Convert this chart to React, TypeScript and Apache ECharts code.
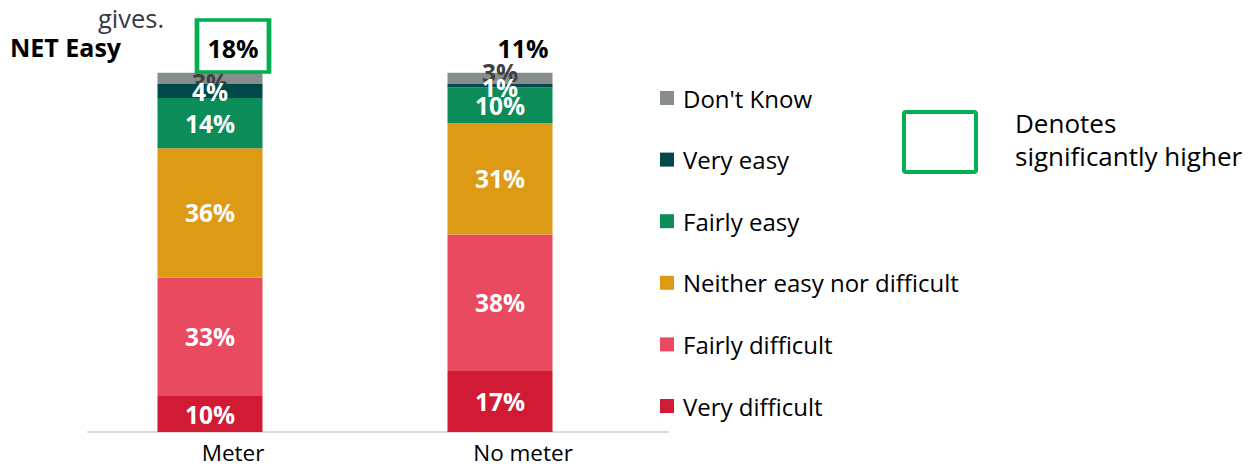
import React, { useEffect, useRef } from "react";
import * as echarts from "echarts";

const categories = ["Meter", "No meter"];
const seriesNames = [
  "Very difficult",
  "Fairly difficult",
  "Neither easy nor difficult",
  "Fairly easy",
  "Very easy",
  "Don't Know",
];
const veryDifficult = [10, 17];
const fairlyDifficult = [33, 38];
const neitherEasyNorDifficult = [36, 31];
const fairlyEasy = [14, 10];
const veryEasy = [4, 1];
const dontKnow = [3, 3];
const netEasy = [18, 11];
const significantlyHigher = [true, false];
const legendOrder = [
  "Don't Know",
  "Very easy",
  "Fairly easy",
  "Neither easy nor difficult",
  "Fairly difficult",
  "Very difficult",
];

const seriesValues = [veryDifficult, fairlyDifficult, neitherEasyNorDifficult, fairlyEasy, veryEasy, dontKnow];
const seriesColors = ["#d11a33", "#ea4a60", "#dd9a14", "#0b8c58", "#00484a", "#878c8c"];
// label nudges per series (by category) for the small segments
const labelNudges: Record<string, number[]> = {
  "Don't Know": [4, -6],
  "Very easy": [1, 2],
};

const FONT = "'Open Sans', 'Noto Sans', sans-serif";
const GREEN = "#00b050";

export default function App() {
  const ref = useRef<HTMLDivElement>(null);

  useEffect(() => {
    if (!ref.current) return;
    const chart = echarts.init(ref.current, null, { renderer: "svg" });

    const barSeries = seriesNames.map((name, i) => {
      const isDK = name === "Don't Know";
      const nudges = labelNudges[name];
      return {
        name,
        type: "bar",
        stack: "total",
        xAxisIndex: 1,
        yAxisIndex: 1,
        barWidth: 105,
        z: isDK ? 1 : 2,
        silent: true,
        itemStyle: { color: seriesColors[i] },
        label: {
          show: true,
          position: "inside",
          formatter: "{c}%",
          color: isDK ? "#404040" : "#ffffff",
          fontWeight: "bold",
          fontSize: 24.5,
          fontFamily: FONT,
        },
        data: seriesValues[i].map((v, j) =>
          nudges ? { value: v, label: { offset: [0, nudges[j]] } } : v
        ),
      };
    });

    const netData = netEasy.map((v, i) =>
      significantlyHigher[i]
        ? {
            value: 107.5,
            symbol: "rect",
            symbolSize: [72, 52],
            itemStyle: { color: "#ffffff", borderColor: GREEN, borderWidth: 4, opacity: 1 },
          }
        : { value: 107.5, symbolSize: 0 }
    );

    chart.setOption({
      animation: false,
      grid: [
        { left: 88, width: 580, top: 19, height: 413 },
        { left: 65, width: 580, top: 19, height: 413 },
      ],
      xAxis: [
        {
          type: "category",
          gridIndex: 0,
          data: categories,
          axisLine: { lineStyle: { color: "#d9d9d9", width: 2 } },
          axisTick: { show: false },
          axisLabel: { fontSize: 22.5, lineHeight: 22, color: "#000000", margin: 9, fontFamily: FONT },
        },
        { type: "category", gridIndex: 1, data: categories, show: false },
      ],
      yAxis: [
        { type: "value", gridIndex: 0, min: 0, max: 115, show: false },
        { type: "value", gridIndex: 1, min: 0, max: 115, show: false },
      ],
      legend: {
        data: legendOrder,
        orient: "vertical",
        left: 660,
        top: 85,
        padding: 0,
        itemWidth: 14,
        itemHeight: 14,
        itemGap: 35.6,
        icon: "rect",
        selectedMode: false,
        textStyle: { fontSize: 24, lineHeight: 26, color: "#000000", fontFamily: FONT, padding: [0, 0, 0, 4] },
      },
      series: [
        ...barSeries,
        {
          type: "scatter",
          xAxisIndex: 0,
          yAxisIndex: 0,
          silent: true,
          z: 5,
          itemStyle: { opacity: 1 },
          label: {
            show: true,
            position: "inside",
            offset: [0, 2],
            formatter: (p: any) => netEasy[p.dataIndex] + "%",
            color: "#000000",
            opacity: 1,
            fontWeight: "bold",
            fontSize: 25,
            fontFamily: FONT,
          },
          data: netData,
        },
      ],
      graphic: [
        {
          type: "text",
          left: 98,
          top: 5,
          style: { text: "gives.", fontSize: 25.5, fill: "#333a44", fontFamily: FONT },
        },
        {
          type: "text",
          left: 10,
          top: 34,
          style: { text: "NET Easy", fontSize: 25, fontWeight: "bold", fill: "#000000", fontFamily: FONT },
        },
        {
          type: "rect",
          shape: { x: 904, y: 112, width: 72, height: 60, r: 2 },
          style: { fill: "none", stroke: GREEN, lineWidth: 4 },
        },
        {
          type: "text",
          left: 1015,
          top: 110,
          style: { text: "Denotes", fontSize: 26, fill: "#000000", fontFamily: FONT },
        },
        {
          type: "text",
          left: 1015,
          top: 143,
          style: { text: "significantly higher", fontSize: 26, fill: "#000000", fontFamily: FONT },
        },
      ],
    });

    return () => chart.dispose();
  }, []);

  return (
    <div
      ref={ref}
      style={{ position: "fixed", left: 0, top: 0, width: 1256, height: 467, background: "#ffffff" }}
    />
  );
}
